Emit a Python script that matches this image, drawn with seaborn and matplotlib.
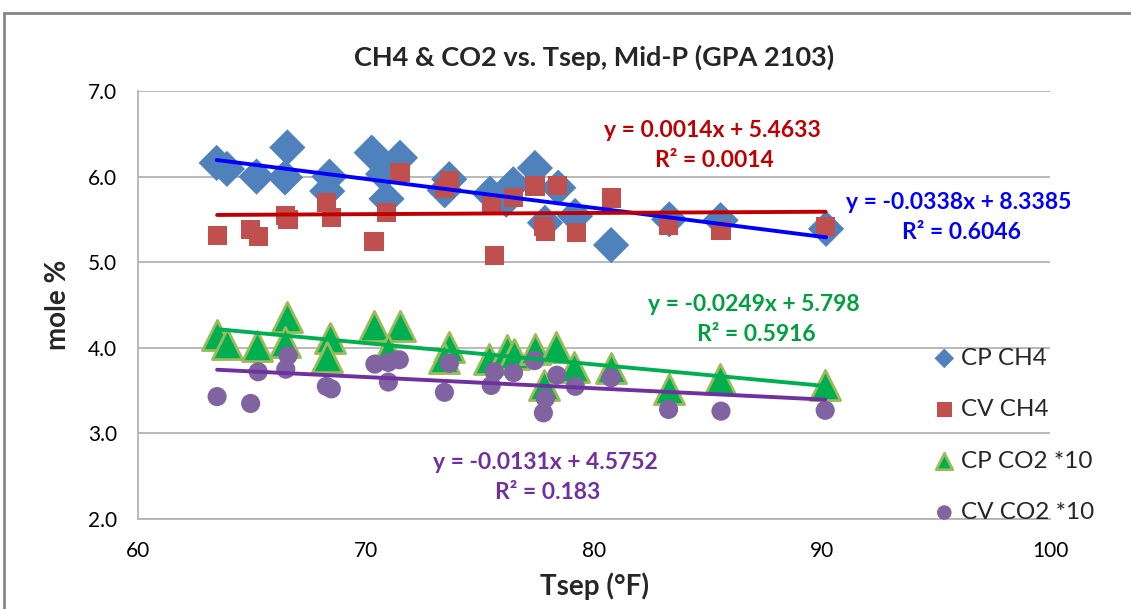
#%% Imports
import matplotlib
matplotlib.use("Agg")
import matplotlib.pyplot as plt
import seaborn as sns
import numpy as np
from matplotlib.patches import Rectangle

#%% Data
# CP CH4 (mole %)
cp_tsep = [63.45, 63.9, 65.2, 66.55, 66.45, 68.4, 68.3, 70.25, 71.49, 70.75, 70.9, 73.65,
           73.45, 75.44, 76.46, 76.15, 77.41, 78.43, 77.85, 79.17, 80.75, 83.3, 85.55, 90.18]
cp_ch4 = [6.16, 6.09, 6.00, 6.34, 5.99, 6.00, 5.83, 6.28, 6.22, 6.03, 5.74, 5.97,
          5.84, 5.80, 5.91, 5.73, 6.10, 5.87, 5.46, 5.54, 5.20, 5.50, 5.49, 5.39]

# CV CH4 (mole %)
cv_tsep = [63.47, 64.95, 65.27, 66.48, 66.58, 68.26, 68.48, 70.35, 70.9, 71.49, 73.66, 73.44,
           75.5, 75.63, 76.46, 77.41, 78.39, 77.78, 77.88, 79.24, 80.75, 83.27, 85.57, 90.16]
cv_ch4 = [5.31, 5.38, 5.30, 5.55, 5.50, 5.70, 5.52, 5.24, 5.58, 6.05, 5.95, 5.86,
          5.66, 5.08, 5.76, 5.89, 5.90, 5.42, 5.36, 5.35, 5.75, 5.43, 5.37, 5.42]

# CP CO2 * 10
cp_co2_tsep = [63.45, 63.9, 65.2, 66.55, 66.45, 68.4, 68.3, 70.35, 71.49, 70.96, 73.65, 73.4,
               75.4, 76.2, 76.5, 77.4, 78.34, 77.8, 79.14, 80.75, 83.27, 85.54, 90.14]
cp_co2 = [4.15, 4.05, 4.02, 4.36, 4.07, 4.12, 3.89, 4.26, 4.26, 3.97, 4.01, 3.88,
          3.87, 3.97, 3.93, 3.99, 4.01, 3.56, 3.78, 3.76, 3.52, 3.64, 3.56]

# CV CO2 * 10
cv_co2_tsep = [63.47, 64.94, 65.27, 66.58, 66.48, 68.26, 68.48, 70.39, 70.98, 71.46, 70.98, 73.66,
               73.44, 75.49, 75.63, 76.47, 77.39, 78.37, 77.87, 77.78, 79.18, 80.75, 83.27, 85.57, 90.14]
cv_co2 = [3.43, 3.35, 3.72, 3.91, 3.75, 3.55, 3.52, 3.81, 3.83, 3.86, 3.60, 3.82,
          3.48, 3.56, 3.72, 3.71, 3.85, 3.68, 3.41, 3.24, 3.55, 3.65, 3.28, 3.26, 3.27]

# Excel trendline coefficients (slope, intercept) and R²
trend_slope = [-0.0338, 0.0014, -0.0249, -0.0131]
trend_icept = [8.3385, 5.4633, 5.798, 4.5752]
trend_r2 = ["0.6046", "0.0014", "0.5916", "0.183"]

series_names = ["CP CH4", "CV CH4", "CP CO2 *10", "CV CO2 *10"]
x_ticks = [60, 70, 80, 90, 100]
y_ticks = [2.0, 3.0, 4.0, 5.0, 6.0, 7.0]

#%% Style
sns.set_style("white")
plt.rcParams["font.family"] = ["Lato", "DejaVu Sans"]

marker_colors = ["#4F81BD", "#C0504D", "#00B050", "#8064A2"]
edge_colors = ["none", "none", "#9BBB59", "none"]
line_colors = ["#0000FF", "#C00000", "#00B050", "#7030A0"]
text_colors = ["#0000FF", "#C00000", "#00A040", "#7030A0"]
markers = ["D", "s", "^", "o"]
sizes = [340, 190, 470, 190]

#%% Plot
fig, ax = plt.subplots(figsize=(11.31, 6.09), dpi=100)
fig.subplots_adjust(left=138 / 1131, right=1050 / 1131, top=1 - 91 / 609, bottom=1 - 519 / 609)

xs = [cp_tsep, cv_tsep, cp_co2_tsep, cv_co2_tsep]
ys = [cp_ch4, cv_ch4, cp_co2, cv_co2]

for i in range(4):
    sns.scatterplot(x=xs[i], y=ys[i], marker=markers[i], s=sizes[i], color=marker_colors[i],
                    edgecolor=edge_colors[i], linewidth=2 if i == 2 else 0,
                    label=series_names[i], ax=ax, zorder=3 + i)

# trendlines over each series' x-range
for i in range(4):
    x_end = np.array([min(xs[i]), max(xs[i])])
    y_end = trend_slope[i] * x_end + trend_icept[i]
    sns.lineplot(x=x_end, y=y_end, color=line_colors[i], linewidth=2.8, ax=ax,
                 zorder=10, legend=False)

# trendline labels
eq_pos = [(96.0, 5.70), (85.2, 6.54), (87.0, 4.50), (77.85, 2.66)]
for i in range(4):
    eq = f"y = {trend_slope[i]}x + {trend_icept[i]}"
    ax.text(eq_pos[i][0], eq_pos[i][1], eq, color=text_colors[i], fontsize=16.5,
            fontweight="bold", ha="center", va="center", zorder=12)
    ax.text(eq_pos[i][0] + 0.1, eq_pos[i][1] - 0.35, f"R² = {trend_r2[i]}", color=text_colors[i],
            fontsize=16.5, fontweight="bold", ha="center", va="center", zorder=12)

ax.set_xlim(60, 100)
ax.set_ylim(2.0, 7.0)
ax.set_xticks(x_ticks)
ax.set_yticks(y_ticks)
ax.set_yticklabels([f"{v:.1f}" for v in y_ticks])
ax.tick_params(axis="both", length=0, labelsize=15, colors="#000000")
ax.tick_params(axis="x", pad=16)
ax.tick_params(axis="y", pad=15)
ax.yaxis.grid(True, color="#B3B3B3", linewidth=1.3)
ax.xaxis.grid(False)
ax.set_axisbelow(True)
for side in ["top", "right"]:
    ax.spines[side].set_visible(False)
for side in ["left", "bottom"]:
    ax.spines[side].set_color("#B3B3B3")
    ax.spines[side].set_linewidth(1.3)

ax.set_xlabel("Tsep (°F)", fontsize=20, fontweight="bold", labelpad=8)
ax.set_ylabel("mole %", fontsize=20, fontweight="bold", labelpad=12)
ax.set_title("CH4 & CO2 vs. Tsep, Mid-P (GPA 2103)", fontsize=19.5, fontweight="bold", pad=18)

leg = ax.legend(loc="upper left", bbox_to_anchor=(920 / 1131, 1 - 338 / 609),
                bbox_transform=fig.transFigure, frameon=False, fontsize=17.5,
                labelspacing=1.25, handletextpad=0.1, handlelength=1.2, borderaxespad=0)
for h, s in zip(leg.legend_handles, [100, 120, 140, 110]):
    h.set_sizes([s])

# outer chart border
fig.add_artist(Rectangle((4 / 1131, -0.2), 1.2, 1.2 - 13 / 609, transform=fig.transFigure,
                         fill=False, edgecolor="#868686", linewidth=2, clip_on=False))

fig.savefig("out.png", dpi=100)
